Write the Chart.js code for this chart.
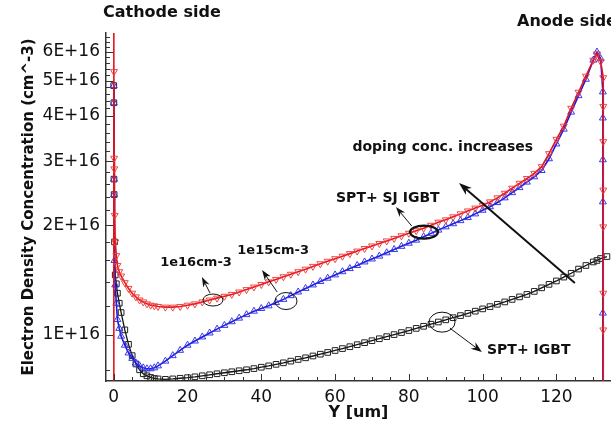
<!DOCTYPE html>
<html>
<head>
<meta charset="utf-8">
<script src="https://cdn.jsdelivr.net/npm/chart.js@4"></script>
<style>
html, body { margin: 0; padding: 0; background: #fff; }
</style>
</head>
<body>
<canvas id="chart" width="611" height="425"></canvas>
<script>
// positions along the device, um
var yPos = [1, 1.5, 2, 3, 4, 5, 6, 7, 8, 9, 10, 11, 12,
  14, 16, 18, 20, 22, 24, 26, 28, 30, 32, 34, 36,
  38, 40, 42, 44, 46, 48, 50, 52, 54, 56, 58, 60,
  62, 64, 66, 68, 70, 72, 74, 76, 78, 80, 82, 84,
  86, 88, 90, 92, 94, 96, 98, 100, 102, 104, 106, 108, 110, 112, 114, 116, 118, 120, 122, 124, 126, 128, 130,
  131, 132];

// electron density, in units of 1E+16 cm^-3
var red1e16 = [1.55, 1.49, 1.45, 1.39, 1.34, 1.30, 1.27, 1.245, 1.23, 1.215, 1.205, 1.20, 1.195,
  1.19, 1.19, 1.195, 1.205, 1.215, 1.23, 1.245, 1.26, 1.275, 1.29, 1.31, 1.33,
  1.352, 1.374, 1.397, 1.419, 1.443, 1.466, 1.49, 1.514, 1.541, 1.567, 1.592, 1.618,
  1.644, 1.671, 1.698, 1.726, 1.754, 1.782, 1.811, 1.84, 1.871, 1.901, 1.932, 1.963,
  2.0, 2.04, 2.07, 2.11, 2.15, 2.19, 2.23, 2.27, 2.32, 2.38, 2.45, 2.53, 2.61, 2.69, 2.78, 2.9, 3.15, 3.45, 3.75, 4.2, 4.65, 5.15, 5.7,
  5.93, 5.65];
var blue1e15 = [1.10, 1.04, 0.99, 0.935, 0.89, 0.86, 0.835, 0.82, 0.81, 0.805, 0.805, 0.81, 0.82,
  0.845, 0.875, 0.905, 0.935, 0.96, 0.985, 1.01, 1.035, 1.06, 1.085, 1.11, 1.135,
  1.16, 1.18, 1.20, 1.225, 1.25, 1.28, 1.31, 1.34, 1.37, 1.40, 1.43, 1.46,
  1.49, 1.52, 1.55, 1.585, 1.615, 1.645, 1.68, 1.715, 1.75, 1.785, 1.82, 1.86,
  1.90, 1.94, 1.98, 2.02, 2.06, 2.10, 2.15, 2.20, 2.25, 2.31, 2.38, 2.46, 2.54, 2.63, 2.72, 2.83, 3.05, 3.35, 3.68, 4.1, 4.55, 5.05, 5.7,
  6.0, 5.75];
var blackIgbt = [1.30, 1.22, 1.15, 1.03, 0.94, 0.875, 0.83, 0.80, 0.78, 0.77, 0.762, 0.757, 0.755,
  0.753, 0.755, 0.758, 0.761, 0.765, 0.77, 0.775, 0.78, 0.785, 0.79, 0.795, 0.80,
  0.806, 0.813, 0.82, 0.828, 0.836, 0.845, 0.854, 0.863, 0.873, 0.883, 0.893, 0.904,
  0.915, 0.926, 0.938, 0.95, 0.962, 0.974, 0.987, 1.0, 1.013, 1.026, 1.04, 1.054,
  1.068, 1.083, 1.098, 1.113, 1.128, 1.144, 1.16, 1.177, 1.194, 1.212, 1.23, 1.25, 1.27, 1.29, 1.315, 1.345, 1.375, 1.405, 1.44, 1.475, 1.515, 1.55, 1.585,
  1.60, 1.62];

// steep parts at the cathode contact
var redCathX = [0, 0, 0.05, 0.1, 0.15, 0.25, 0.4, 0.7];
var redCathY = [0.5, 9, 5.3, 3.06, 2.86, 2.13, 1.8, 1.65];
var blueCathX = [0, 0.03, 0.06, 0.1, 0.2, 0.4, 0.7];
var blueCathY = [4.85, 4.35, 2.68, 2.43, 1.6, 1.37, 1.22];
var blackCathX = [0, 0.03, 0.06, 0.1, 0.2, 0.4, 0.7];
var blackCathY = [4.85, 4.35, 2.68, 2.43, 1.8, 1.46, 1.38];

// drop at the anode contact
var redAnodeX = [132.7, 132.7, 132.7, 132.7, 132.7, 132.7, 132.7, 132.7];
var redAnodeY = [5.1, 4.25, 3.4, 2.5, 1.98, 1.3, 1.03, 0.5];
var blueAnodeX = [132.6, 132.6, 132.6, 132.6, 132.6, 132.6];
var blueAnodeY = [4.66, 3.95, 3.03, 2.32, 1.146, 0.5];
var blackAnodeX = [133.7];
var blackAnodeY = [1.64];

var xTicks = [0, 20, 40, 60, 80, 100, 120];
var yTicks = [1, 2, 3, 4, 5, 6];

function pts(xs, ys) {
  return xs.map(function(x, i) { return {x: x, y: ys[i]}; });
}

var FONT = '"DejaVu Sans", "Liberation Sans", sans-serif';
var X_MIN = -2.1, X_MAX = 134.8, Y_MIN = 0.745, Y_MAX = 6.77;

function arrow(ctx, x1, y1, x2, y2, w, hl, hw) {
  var a = Math.atan2(y2 - y1, x2 - x1);
  var c = Math.cos(a), s = Math.sin(a);
  ctx.lineWidth = w;
  ctx.beginPath();
  ctx.moveTo(x1, y1);
  ctx.lineTo(x2 - hl * 0.7 * c, y2 - hl * 0.7 * s);
  ctx.stroke();
  ctx.beginPath();
  ctx.moveTo(x2, y2);
  ctx.lineTo(x2 - hl * c + hw * s, y2 - hl * s - hw * c);
  ctx.lineTo(x2 - hl * 0.7 * c, y2 - hl * 0.7 * s);
  ctx.lineTo(x2 - hl * c - hw * s, y2 - hl * s + hw * c);
  ctx.closePath();
  ctx.fill();
}

// the x scale keeps a few px free on the right; let the plot run to the canvas edge like the original
var stretch = {
  id: 'stretch',
  afterLayout: function(chart) {
    var xs = chart.scales.x, W = chart.width;
    chart.chartArea.right = W;
    chart.chartArea.width = W - chart.chartArea.left;
    xs.right = W;
    xs.width = W - xs.left;
    xs.configure();
  }
};

var notes = {
  id: 'notes',
  afterDraw: function(chart) {
    var ctx = chart.ctx, xs = chart.scales.x, ys = chart.scales.y, a = chart.chartArea;
    ctx.save();
    // inward tick marks
    ctx.strokeStyle = '#333';
    ctx.lineWidth = 1;
    ctx.beginPath();
    for (var v = 0; v <= 135; v += 5) {
      var px = Math.round(xs.getPixelForValue(v)) + 0.5;
      var len = (v % 20 === 0) ? 7 : 4;
      ctx.moveTo(px, a.bottom);
      ctx.lineTo(px, a.bottom - len);
    }
    for (var k = 4; k <= 33; k++) {
      var py = Math.round(ys.getPixelForValue(k * 0.2)) + 0.5;
      var ln = (k % 5 === 0) ? 7 : 4;
      ctx.moveTo(a.left, py);
      ctx.lineTo(a.left + ln, py);
    }
    ctx.stroke();

    function P(x, y) { return [xs.getPixelForValue(x), ys.getPixelForValue(y)]; }
    ctx.strokeStyle = '#111';
    ctx.fillStyle = '#111';

    // ellipses
    var ells = [[26.9, 1.245, 10, 6, 1], [46.7, 1.237, 11, 8.5, 1], [84.1, 1.916, 14, 6.5, 2.2], [89.0, 1.082, 13, 10, 1]];
    ells.forEach(function(e) {
      var p = P(e[0], e[1]);
      ctx.lineWidth = e[4];
      ctx.beginPath();
      ctx.ellipse(p[0], p[1], e[2], e[3], 0, 0, Math.PI * 2);
      ctx.stroke();
    });

    // arrows
    var arrs = [
      [26.1, 1.301, 23.9, 1.44, 1, 10, 3.5],
      [44.3, 1.31, 40.2, 1.505, 1, 10, 3.5],
      [80.8, 1.99, 76.5, 2.245, 1, 10, 3.5],
      [91.1, 1.042, 99.8, 0.895, 1, 11, 4],
      [125.0, 1.386, 93.6, 2.615, 2, 13, 4.5]
    ];
    arrs.forEach(function(r) {
      var p1 = P(r[0], r[1]), p2 = P(r[2], r[3]);
      arrow(ctx, p1[0], p1[1], p2[0], p2[1], r[4], r[5], r[6]);
    });

    // labels
    ctx.textAlign = 'center';
    ctx.textBaseline = 'middle';
    var labs = [
      ['1e16cm-3', 22.3, 1.574, 13],
      ['1e15cm-3', 43.2, 1.698, 13],
      ['SPT+ SJ IGBT', 74.3, 2.377, 14],
      ['doping conc. increases', 89.2, 3.285, 14],
      ['SPT+ IGBT', 112.5, 0.906, 14]
    ];
    labs.forEach(function(l) {
      var p = P(l[1], l[2]);
      ctx.font = 'bold ' + l[3] + 'px ' + FONT;
      ctx.fillText(l[0], p[0], p[1]);
    });
    ctx.textAlign = 'left';
    ctx.font = 'bold 16px ' + FONT;
    ctx.fillText('Cathode side', 103, 13);
    ctx.fillText('Anode side', 517, 22);
    ctx.restore();
  }
};

var ctx = document.getElementById('chart').getContext('2d');
var myChart = new Chart(ctx, {
  type: 'line',
  data: {
    datasets: [{
      label: '1e16cm-3',
      data: pts(redCathX, redCathY).concat(pts(yPos, red1e16), pts(redAnodeX, redAnodeY)),
      borderColor: '#e4141c',
      borderWidth: 1.6,
      pointStyle: 'triangle',
      rotation: 180,
      pointRadius: 4,
      pointBorderWidth: 1,
      pointBorderColor: 'rgba(240,60,60,0.95)',
      pointBackgroundColor: 'rgba(0,0,0,0)'
    }, {
      label: '1e15cm-3',
      data: pts(blueCathX, blueCathY).concat(pts(yPos, blue1e15), pts(blueAnodeX, blueAnodeY)),
      borderColor: '#1a1ad8',
      borderWidth: 1.6,
      pointStyle: 'triangle',
      pointRadius: 4,
      pointBorderWidth: 1,
      pointBorderColor: 'rgba(50,50,235,0.95)',
      pointBackgroundColor: 'rgba(0,0,0,0)'
    }, {
      label: 'SPT+ IGBT',
      data: pts(blackCathX, blackCathY).concat(pts(yPos, blackIgbt), pts(blackAnodeX, blackAnodeY)),
      borderColor: '#111',
      borderWidth: 1.3,
      pointStyle: 'rect',
      pointRadius: 4,
      pointBorderWidth: 1,
      pointBorderColor: '#222',
      pointBackgroundColor: 'rgba(0,0,0,0)'
    }]
  },
  options: {
    responsive: false,
    animation: false,
    layout: { padding: { top: 33, right: 0, left: 0, bottom: 0 } },
    elements: { line: { tension: 0 } },
    plugins: { legend: { display: false }, tooltip: { enabled: false } },
    scales: {
      x: {
        type: 'linear',
        min: X_MIN,
        max: X_MAX,
        afterFit: function(s) { s.height = 44; s.paddingLeft = 0; s.paddingRight = 0; },
        afterBuildTicks: function(s) {
          s.ticks = xTicks.map(function(v) { return {value: v}; });
          s.min = X_MIN; s.max = X_MAX;
        },
        grid: { display: false, drawTicks: false },
        border: { display: true, color: '#333', width: 1.5 },
        ticks: { font: { family: FONT, size: 17 }, color: '#111', padding: 6, maxRotation: 0, autoSkip: false },
        title: { display: true, text: 'Y [um]', color: '#111', font: { family: FONT, size: 16, weight: 'bold' }, padding: { top: 0, bottom: 3 } }
      },
      y: {
        type: 'logarithmic',
        min: Y_MIN,
        max: Y_MAX,
        afterFit: function(s) { s.width = 106; s.paddingTop = 0; s.paddingBottom = 0; },
        afterBuildTicks: function(s) {
          s.ticks = yTicks.map(function(v) { return {value: v}; });
          s.min = Y_MIN; s.max = Y_MAX;
        },
        grid: { display: false, drawTicks: false },
        border: { display: true, color: '#333', width: 1.5 },
        ticks: {
          font: { family: FONT, size: 17 }, color: '#111', padding: 6, autoSkip: false,
          callback: function(v) { return v + 'E+16'; }
        },
        title: { display: true, text: 'Electron Density Concentration (cm^-3)', color: '#111', font: { family: FONT, size: 15, weight: 'bold' }, padding: { top: 20, bottom: 0 } }
      }
    }
  },
  plugins: [stretch, notes]
});
</script>
</body>
</html>
